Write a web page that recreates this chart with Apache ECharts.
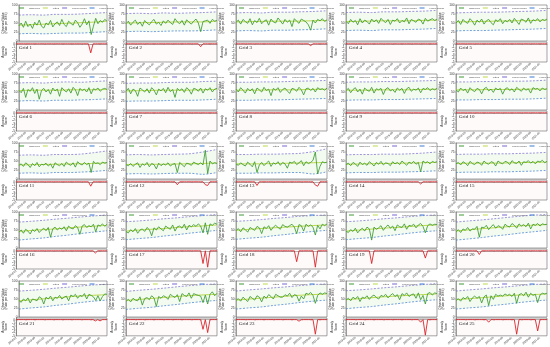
<!DOCTYPE html>
<html><head><meta charset="utf-8">
<script src="https://cdn.jsdelivr.net/npm/echarts@6.0.0/dist/echarts.min.js"></script>
<style>html,body{margin:0;padding:0;background:#fff}#c{width:550px;height:347px}</style>
</head><body><div id="c"></div>
<script>
const categories = ['2018-01','2018-02','2018-03','2018-04','2018-05','2018-06','2018-07','2018-08','2018-09','2018-10','2018-11','2018-12',
'2019-01','2019-02','2019-03','2019-04','2019-05','2019-06','2019-07','2019-08','2019-09','2019-10','2019-11','2019-12',
'2020-01','2020-02','2020-03','2020-04','2020-05','2020-06','2020-07','2020-08','2020-09','2020-10','2020-11','2020-12',
'2021-01','2021-02','2021-03','2021-04'];
const panelNames = ['Grid 1','Grid 2','Grid 3','Grid 4','Grid 5','Grid 6','Grid 7','Grid 8','Grid 9','Grid 10','Grid 11','Grid 12','Grid 13','Grid 14','Grid 15','Grid 16','Grid 17','Grid 18','Grid 19','Grid 20','Grid 21','Grid 22','Grid 23','Grid 24','Grid 25'];
const topTicks = [0,25,50,75,100];
const observed = [
[42,50,38,55,40,47,35,52,44,58,41,36,50,45,57,39,48,53,43,60,46,40,55,49,44,58,51,38,47,62,45,56,18,41,63,48,57,52,60,55],
[48,55,44,52,58,46,53,41,57,50,45,54,60,47,52,43,56,49,58,51,46,62,53,48,57,44,59,52,47,55,61,50,26,54,56,58,49,60,55,57],
[52,58,47,60,54,49,62,45,57,51,63,48,55,59,44,61,53,50,64,56,47,60,52,58,40,62,55,49,61,57,53,45,30,58,50,60,56,62,54,59],
[55,48,60,52,57,45,62,50,58,54,47,61,53,59,49,63,56,51,60,46,58,55,62,50,57,53,64,48,60,56,52,61,58,47,63,55,59,62,57,60],
[50,57,46,60,53,49,62,55,44,58,52,61,47,56,60,51,45,59,54,62,48,57,53,60,50,63,55,46,61,58,52,64,49,59,56,62,53,60,57,61],
[55,48,60,35,57,52,62,46,58,30,54,60,50,57,44,61,53,58,38,62,55,50,59,47,63,56,40,60,54,58,50,62,45,59,56,61,52,58,60,57],
[52,60,45,58,54,38,61,56,50,59,47,62,55,42,58,53,60,48,63,51,57,35,60,54,59,49,62,56,44,60,58,52,61,47,59,55,62,50,58,60],
[58,50,62,55,47,60,53,59,45,61,56,50,63,54,58,40,60,55,62,49,57,61,53,46,60,58,52,63,56,42,59,61,54,60,50,62,57,59,55,61],
[54,60,48,57,62,50,58,44,61,55,52,63,47,59,56,60,43,58,62,53,57,49,61,55,60,46,59,63,52,58,55,61,48,60,57,62,54,59,56,60],
[56,50,61,54,58,47,62,55,51,60,57,45,59,63,53,58,49,61,56,60,44,58,62,54,59,50,63,57,52,61,55,59,47,62,58,60,53,61,57,59],
[38,42,35,45,40,32,43,37,46,34,41,39,44,36,42,30,45,40,37,43,35,47,41,38,45,33,48,42,39,46,40,44,18,49,43,45,40,47,44,46],
[40,37,43,35,41,45,32,42,38,46,34,43,40,28,44,37,42,39,45,36,41,43,18,46,40,34,44,42,38,47,43,40,45,39,80,15,50,42,45,43],
[42,38,45,40,36,47,41,34,48,18,39,46,37,44,50,35,45,41,48,38,46,42,30,47,44,49,40,45,51,37,48,43,46,52,75,14,35,48,45,47],
[40,44,37,46,42,35,47,40,44,38,48,43,36,46,41,49,39,45,43,37,48,42,46,40,50,44,38,47,43,49,41,46,20,50,45,48,42,49,46,48],
[42,46,39,48,44,37,49,43,40,47,45,38,50,44,41,48,46,36,50,45,42,49,47,40,51,45,43,50,38,48,46,51,44,49,42,50,47,52,45,49],
[44,50,41,52,47,39,51,46,54,43,50,55,48,57,30,53,58,50,56,52,59,48,61,55,53,62,57,38,61,65,57,62,59,66,45,64,61,67,60,66],
[46,42,51,45,54,41,50,53,46,57,51,34,56,50,59,53,48,61,56,52,64,47,59,61,55,66,50,63,59,65,60,67,61,42,70,38,67,63,69,66],
[48,54,45,56,51,44,57,53,49,60,56,40,59,54,62,49,58,63,57,52,65,60,58,62,66,58,40,65,62,47,66,60,64,58,36,63,53,66,62,67],
[47,43,51,46,55,42,50,55,47,58,53,22,58,52,56,62,49,58,64,55,61,48,64,59,57,67,52,63,61,66,56,64,68,60,42,62,67,63,66,65],
[45,51,43,53,49,57,47,53,52,60,30,58,56,63,51,59,65,55,62,59,52,66,61,58,68,63,55,67,61,65,59,69,53,66,63,68,61,67,65,66],
[46,41,50,45,53,39,50,48,45,56,52,36,55,50,58,45,55,52,60,50,55,58,45,61,57,63,52,60,57,65,50,63,60,56,46,59,45,57,64,63],
[44,49,42,52,47,45,56,33,51,54,48,59,53,29,57,52,59,56,49,63,58,54,62,43,65,60,57,67,52,65,62,60,58,40,61,36,63,70,59,66],
[46,51,44,55,49,43,57,52,47,59,55,42,58,52,62,57,50,63,59,55,55,62,58,66,54,62,60,44,58,50,66,63,68,60,38,60,67,63,67,65],
[47,52,45,55,50,57,43,55,52,59,49,57,61,54,50,60,57,63,53,60,65,57,62,48,65,60,67,57,62,64,52,67,48,60,36,65,68,61,67,65],
[46,51,44,54,50,57,43,53,58,52,57,39,56,61,32,59,49,63,58,61,58,64,60,63,57,66,38,62,65,59,69,55,66,60,63,40,61,66,64,66]
];
const trendIdx = [0,8,16,24,32,39];
const trend = [
[44,46,48,50,52,55],[50,51,52,53,53,55],[53,54,55,55,56,57],[54,55,56,56,57,58],[53,54,55,56,57,58],
[54,55,55,56,56,57],[53,54,55,55,56,57],[55,55,56,56,57,58],[55,55,56,56,57,58],[56,56,57,57,58,58],
[39,40,41,42,43,45],[40,41,41,42,43,45],[42,42,43,44,45,46],[41,42,43,44,45,46],[43,44,44,45,46,47],
[46,50,53,57,60,63],[47,51,54,58,61,64],[49,53,56,59,62,64],[47,51,55,58,62,64],[47,52,56,60,63,65],
[45,49,53,57,60,62],[46,50,54,58,61,63],[47,51,55,59,62,64],[48,52,56,59,62,64],[48,52,56,60,62,64]
];
const boundIdx = [0,5,11,16,22,27,33,39];
const upper = [
[72,73,72,74,74,75,77,79],[76,77,76,78,77,78,79,81],[78,79,78,80,80,81,82,84],[79,80,79,81,81,82,83,85],[78,79,80,80,81,82,83,85],
[75,76,75,77,78,77,79,81],[74,75,75,76,77,77,79,80],[77,77,78,78,79,80,81,82],[77,78,78,79,79,80,81,82],[78,78,79,79,80,80,81,83],
[66,67,66,68,68,69,73,78],[67,68,67,68,69,70,75,82],[68,68,69,69,70,71,76,84],[67,68,68,69,69,70,72,75],[68,69,69,70,70,71,72,74],
[72,74,77,80,83,86,89,92],[73,75,78,81,84,87,90,93],[74,76,79,82,85,88,90,92],[73,75,78,81,84,87,90,92],[72,75,78,81,85,88,91,93],
[72,74,77,80,83,86,89,91],[71,74,77,80,84,87,90,92],[72,75,78,81,84,87,90,92],[73,75,78,81,84,87,90,93],[72,75,78,81,84,87,90,92]
];
const lower = [
[20,21,20,21,22,22,24,26],[26,27,26,27,28,28,29,31],[28,29,28,30,30,31,32,34],[29,30,29,31,31,32,33,35],[28,29,29,30,31,32,33,35],
[25,26,25,27,27,28,29,31],[24,25,25,26,27,27,28,30],[27,27,28,28,29,30,31,32],[27,28,28,29,29,30,31,32],[28,28,29,29,30,30,31,33],
[16,17,16,18,18,19,21,24],[14,15,14,15,16,16,13,18],[16,16,17,17,18,18,14,20],[17,18,18,19,19,20,21,23],[18,19,19,20,20,21,22,24],
[22,25,28,32,36,40,44,48],[23,26,29,33,37,41,45,49],[24,27,30,34,38,42,46,49],[23,26,29,33,37,41,45,48],[22,25,29,33,37,41,45,49],
[22,25,28,32,36,40,44,47],[21,24,27,31,35,39,43,46],[22,25,28,32,36,40,44,47],[23,26,29,33,37,41,45,48],[22,25,28,32,36,40,44,47]
];
// anomaly score: baseline 0, spikes [index, value]
const spikes = [
[[32,-2.5]],[[32,-0.8]],[[32,-0.5]],[],[],
[],[],[],[],[],
[[32,-1.2]],[[22,-0.8],[34,-0.8],[35,-1]],[[9,-1],[34,-0.9],[35,-1.2]],[[32,-0.6]],[],
[[34,-0.6]],[[33,-3.5],[35,-4.5]],[[26,-3],[34,-4.5]],[[11,-3.5],[34,-2]],[[10,-1]],
[[34,-0.4],[36,-0.4]],[[33,-3],[35,-4]],[[27,-0.5],[34,-4.5]],[[32,-0.8],[34,-4.8]],[[14,-0.8],[26,-4.5],[35,-3.5]]
];
const legendNames = ['Observed','Fitted','Upper bound','Lower bound'];

const chart = echarts.init(document.getElementById('c'), null, {renderer:'canvas'});
const grids=[], xAxes=[], yAxes=[], series=[], legends=[], titles=[];
const axisLbl = {fontSize:3.2, margin:1.5, color:'#333'};
for (let p=0;p<25;p++){
  const col=p%5, row=Math.floor(p/5);
  const left=110*col+16, w=91;
  const topA=69*row+5, hA=36, topB=69*row+42, hB=20;
  grids.push({left:left, top:topA, width:w, height:hA, show:true, borderColor:'#666', borderWidth:0.6, backgroundColor:'#fff'});
  grids.push({left:left, top:topB, width:w, height:hB, show:true, borderColor:'#666', borderWidth:0.6, backgroundColor:'#fffafa'});
  const gi=2*p;
  xAxes.push({type:'category', gridIndex:gi, data:categories, boundaryGap:false, axisLabel:{show:false}, axisTick:{show:false}, axisLine:{show:false}});
  xAxes.push({type:'category', gridIndex:gi+1, data:categories, boundaryGap:false,
    axisLabel:{fontSize:2.8, rotate:40, interval:3, margin:1.5, color:'#333'},
    axisTick:{length:1.2, interval:3, lineStyle:{width:0.4}}, axisLine:{lineStyle:{color:'#666', width:0.5}}});
  yAxes.push({type:'value', gridIndex:gi, min:topTicks[0], max:topTicks[topTicks.length-1], interval:25,
    name:'Observed Value\n(Rate per 100k)', nameLocation:'middle', nameGap:8.5,
    nameTextStyle:{fontSize:3, lineHeight:3.6, color:'#333'},
    axisLabel:axisLbl, axisTick:{show:true, length:1.2, lineStyle:{width:0.4}},
    axisLine:{show:true, lineStyle:{color:'#666', width:0.5}}, splitLine:{show:false}});
  yAxes.push({type:'value', gridIndex:gi+1, min:-5, max:0.5, interval:1,
    name:'Anomaly\nScore', nameLocation:'middle', nameGap:7.5,
    nameTextStyle:{fontSize:3, lineHeight:3.6, color:'#333'},
    axisLabel:Object.assign({showMaxLabel:false}, axisLbl), axisTick:{show:true, length:1.2, lineStyle:{width:0.4}},
    axisLine:{show:true, lineStyle:{color:'#666', width:0.5}}, splitLine:{show:false}});
  const up = boundIdx.map((k,i)=>[k, upper[p][i]]);
  const lo = boundIdx.map((k,i)=>[k, lower[p][i]]);
  const band = boundIdx.map((k,i)=>[k, upper[p][i]-lower[p][i]]);
  const tr = trendIdx.map((k,i)=>[k, trend[p][i]]);
  const score = categories.map(()=>0);
  spikes[p].forEach(s=>{ score[s[0]] = s[1]; });
  series.push({type:'line', xAxisIndex:gi, yAxisIndex:gi, data:lo, stack:'band'+p, smooth:0.3, symbol:'none', lineStyle:{opacity:0}, silent:true});
  series.push({type:'line', xAxisIndex:gi, yAxisIndex:gi, data:band, stack:'band'+p, smooth:0.3, symbol:'none', lineStyle:{opacity:0}, areaStyle:{color:'rgba(170,225,150,0.2)'}, silent:true});
  series.push({name:legendNames[2], type:'line', xAxisIndex:gi, yAxisIndex:gi, data:up, smooth:0.3, symbol:'none', lineStyle:{color:'#7466cf', width:0.7, type:[2,1.5]}, itemStyle:{color:'#7466cf'}});
  series.push({name:legendNames[3], type:'line', xAxisIndex:gi, yAxisIndex:gi, data:lo, smooth:0.3, symbol:'none', lineStyle:{color:'#3a78cf', width:0.7, type:[2,1.5]}, itemStyle:{color:'#3a78cf'}});
  series.push({name:legendNames[1], type:'line', xAxisIndex:gi, yAxisIndex:gi, data:tr, smooth:0.4, symbol:'none', lineStyle:{color:'#b8d84a', width:1}, itemStyle:{color:'#b8d84a'}, z:3});
  series.push({name:legendNames[0], type:'line', xAxisIndex:gi, yAxisIndex:gi, data:observed[p], symbol:'none', lineStyle:{color:'#3c9a32', width:0.85}, itemStyle:{color:'#3c9a32'}, z:4});
  series.push({name:'Anomaly', type:'line', xAxisIndex:gi+1, yAxisIndex:gi+1, data:score, symbol:'none', lineStyle:{color:'#d8262b', width:0.9}, itemStyle:{color:'#d8262b'}});
  legends.push({left:left+3, top:topA+1.5, width:120, padding:0, itemGap:3, itemWidth:5, itemHeight:1,
    icon:'rect', textStyle:{fontSize:2.5, color:'#444'}, data:legendNames});
  titles.push({text:panelNames[p], left:left+3, top:topB+3.5, padding:0, textStyle:{fontSize:5, fontWeight:'normal', color:'#222', fontFamily:'Liberation Serif'}});
}
chart.setOption({animation:false, backgroundColor:'#fff', title:titles, legend:legends, grid:grids, xAxis:xAxes, yAxis:yAxes, series:series});
</script></body></html>
